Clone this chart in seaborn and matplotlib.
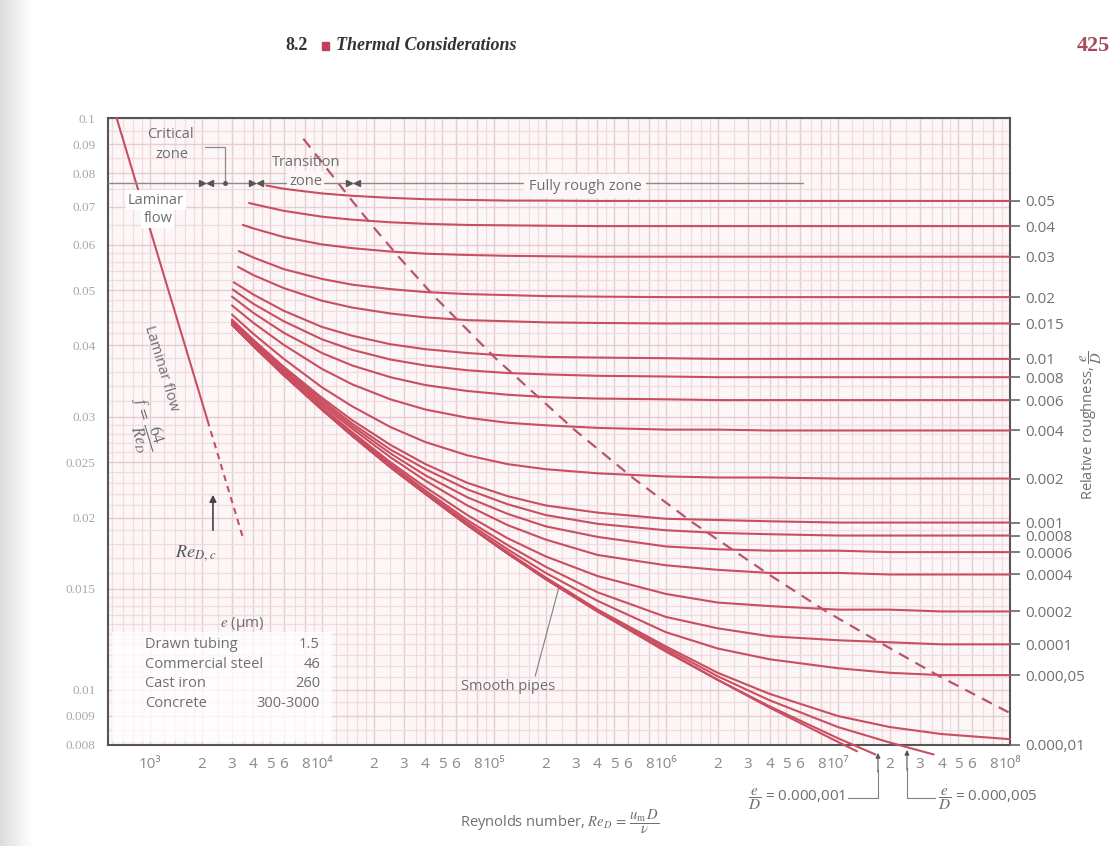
import numpy as np
import pandas as pd
import matplotlib
matplotlib.use("Agg")
import matplotlib.pyplot as plt
import matplotlib.patches as patches
from matplotlib.ticker import NullFormatter, NullLocator
import seaborn as sns

re_grid = [4e3, 6e3, 1e4, 1.5e4, 2.5e4, 4e4, 7e4, 1.2e5, 2e5, 4e5,
           1e6, 2e6, 4e6, 1e7, 2e7, 4e7, 1e8]

rel_rough = ["0.05", "0.04", "0.03", "0.02", "0.015", "0.01", "0.008", "0.006",
             "0.004", "0.002", "0.001", "0.0008", "0.0006", "0.0004", "0.0002",
             "0.0001", "0.00005", "0.00001", "0.000005", "0.000001", "smooth"]

# first point of each curve (left end, near Re = 3000-4700)
start_re = [4750, 3770, 3470, 3290, 3250, 3070, 3030, 3000, 3000, 3000, 3000,
            3000, 3000, 3000, 3000, 3000, 3000, 3000, 3000, 3000, 3000]
start_f = [0.0762, 0.0710, 0.0650, 0.0585, 0.0549, 0.0516, 0.0501, 0.0487,
           0.0470, 0.0453, 0.0444, 0.0442, 0.0441, 0.0439, 0.0437, 0.0436,
           0.0436, 0.0435, 0.0435, 0.0435, 0.0435]

# friction factor of each curve on re_grid (None = curve not drawn there)
friction = [
    [None, .0752, .0738, .0731, .0725, .0721, .0719, .0717, .0717, .0716, .0716, .0716, .0716, .0716, .0716, .0716, .0716],
    [.0707, .0688, .0672, .0664, .0657, .0653, .0650, .0649, .0648, .0647, .0647, .0647, .0647, .0647, .0647, .0647, .0647],
    [.0641, .0619, .0601, .0592, .0584, .0579, .0576, .0574, .0573, .0572, .0572, .0572, .0572, .0572, .0572, .0572, .0572],
    [.0570, .0544, .0523, .0511, .0502, .0496, .0492, .0490, .0488, .0487, .0486, .0486, .0486, .0486, .0486, .0486, .0486],
    [.0531, .0504, .0479, .0466, .0455, .0448, .0443, .0441, .0439, .0438, .0437, .0437, .0437, .0437, .0437, .0437, .0437],
    [.0491, .0460, .0431, .0416, .0402, .0394, .0388, .0384, .0382, .0381, .0380, .0379, .0379, .0379, .0379, .0379, .0379],
    [.0473, .0441, .0410, .0393, .0378, .0369, .0362, .0358, .0356, .0354, .0353, .0352, .0352, .0352, .0352, .0352, .0352],
    [.0456, .0421, .0388, .0369, .0352, .0341, .0333, .0328, .0325, .0323, .0322, .0321, .0321, .0321, .0321, .0321, .0321],
    [.0438, .0401, .0364, .0342, .0322, .0309, .0299, .0293, .0290, .0287, .0285, .0285, .0284, .0284, .0284, .0284, .0284],
    [.0419, .0379, .0338, .0313, .0288, .0271, .0257, .0248, .0243, .0239, .0236, .0235, .0235, .0234, .0234, .0234, .0234],
    [.0409, .0367, .0324, .0296, .0268, .0248, .0230, .0218, .0210, .0204, .0199, .0198, .0197, .0196, .0196, .0196, .0196],
    [.0407, .0365, .0321, .0292, .0263, .0243, .0224, .0211, .0202, .0195, .0190, .0188, .0187, .0186, .0186, .0186, .0186],
    [.0405, .0362, .0318, .0289, .0259, .0237, .0217, .0203, .0193, .0185, .0178, .0176, .0175, .0175, .0174, .0174, .0174],
    [.0403, .0360, .0315, .0286, .0255, .0232, .0210, .0194, .0183, .0172, .0165, .0162, .0160, .0160, .0159, .0159, .0159],
    [.0401, .0357, .0312, .0282, .0250, .0226, .0202, .0184, .0171, .0158, .0147, .0142, .0140, .0138, .0138, .0137, .0137],
    [.0400, .0356, .0310, .0280, .0248, .0223, .0198, .0179, .0164, .0148, .0134, .0128, .0124, .0122, .0121, .0120, .0120],
    [.0400, .0356, .0310, .0279, .0246, .0221, .0196, .0176, .0160, .0143, .0126, .0118, .0113, .0109, .0107, .0106, .0106],
    [.0399, .0355, .0309, .0278, .0245, .0220, .0194, .0174, .0157, .0138, .0119, .0107, .00983, .00899, .0086, .00836, .00819],
    [.0399, .0355, .0309, .0278, .0245, .0220, .0194, .0173, .0157, .0138, .0118, .01055, .00958, .0086, .00808, None, None],
    [.0399, .0355, .0309, .0278, .0245, .0220, .0194, .0173, .0156, .0137, .0117, .0104, .00935, .00822, None, None, None],
    [.0399, .0355, .0309, .0278, .0245, .0220, .0194, .0173, .0156, .0137, .01165, .0104, .0093, .0081, None, None, None],
]

# the lowest curves run a little past the bottom frame
tail_re = [None] * 18 + [3.6e7, 1.65e7, 1.29e7]
tail_f = [None] * 18 + [0.0077, 0.0077, 0.0078]

# laminar line f = 64/Re (solid, then dashed into the critical zone)
lam_re = [640, 2160]
lam_f = [0.100, 0.0296]
lam_dash_re = [2160, 3500]
lam_dash_f = [0.0296, 0.0183]

# dashed boundary between transition and fully rough zones
bound_re = [7.8e3, 1.5e4, 1.97e4, 2.79e4, 4.54e4, 1.03e5, 2.97e5, 6.5e5,
            1.43e6, 3.97e6, 8.55e6, 1.83e7, 3.89e7, 1e8]
bound_f = [0.092, 0.0716, 0.0647, 0.0572, 0.0486, 0.0379, 0.0284, 0.0234,
           0.0196, 0.0159, 0.0137, 0.0120, 0.01055, 0.0091]

# axis ticks
f_ticks = [0.008, 0.009, 0.01, 0.015, 0.02, 0.025, 0.03, 0.04, 0.05, 0.06,
           0.07, 0.08, 0.09, 0.1]
f_tick_labels = ["0.008", "0.009", "0.01", "0.015", "0.02", "0.025", "0.03",
                 "0.04", "0.05", "0.06", "0.07", "0.08", "0.09", "0.1"]
decades = [3, 4, 5, 6, 7]
decade_labels = ["10³", "10⁴", "10⁵", "10⁶", "10⁷", "10⁸"]
sub_mult = [2, 3, 4, 5, 6, 8]

rough_labels = ["0.05", "0.04", "0.03", "0.02", "0.015", "0.01", "0.008",
                "0.006", "0.004", "0.002", "0.001", "0.0008", "0.0006",
                "0.0004", "0.0002", "0.0001", "0.000,05", "0.000,01"]
rough_label_f = [0.0716, 0.0647, 0.0572, 0.0486, 0.0437, 0.0379, 0.0352,
                 0.0321, 0.0284, 0.0234, 0.0196, 0.0186, 0.0174, 0.0159,
                 0.0137, 0.0120, 0.0106, 0.0080]

materials = ["Drawn tubing", "Commercial steel", "Cast iron", "Concrete"]
roughness_um = ["1.5", "46", "260", "300-3000"]

RED = "#c94e60"
DASH_RED = "#b5566c"
GRID = "#efdbe0"
BG = "#fdf6f7"
TEXT = "#6f6f6f"

sns.set_theme(style="white")
plt.rcParams["font.family"] = ["Open Sans", "DejaVu Sans"]
plt.rcParams["mathtext.fontset"] = "stix"

rows = []
for i, name in enumerate(rel_rough):
    rows.append((name, start_re[i], start_f[i]))
    for r, f in zip(re_grid, friction[i]):
        if f is not None and r > start_re[i]:
            rows.append((name, r, f))
    if tail_re[i] is not None:
        rows.append((name, tail_re[i], tail_f[i]))
df = pd.DataFrame(rows, columns=["curve", "Re", "f"])

fig = plt.figure(figsize=(11.14, 8.46), dpi=100)
fig.patch.set_facecolor("white")

# scanner shadow along the binding
strip = fig.add_axes([0, 0, 0.03, 1])
strip.imshow(np.linspace(0.78, 1.0, 50)[None, :] ** 0.6, cmap="gray",
             vmin=0, vmax=1, aspect="auto")
strip.axis("off")

ax = fig.add_axes([0.0969, 0.1194, 0.8097, 0.7411])
ax.set_facecolor(BG)

sns.lineplot(data=df, x="Re", y="f", units="curve", estimator=None, sort=False,
             color=RED, linewidth=1.5, legend=False, ax=ax)
n_curves = len(ax.lines)
sns.lineplot(x=lam_re, y=lam_f, color=RED, linewidth=1.5, ax=ax)
sns.lineplot(x=lam_dash_re, y=lam_dash_f, color=RED, linewidth=1.5,
             linestyle=(0, (3, 2.5)), ax=ax)
sns.lineplot(x=bound_re, y=bound_f, color=DASH_RED, linewidth=1.6,
             linestyle=(0, (5, 3.5)), sort=False, ax=ax)
for i, ln in enumerate(ax.lines):
    ln.set_clip_on(False)
    ln.set_zorder(7 if i < n_curves else 3)

ax.set_xscale("log")
ax.set_yscale("log")
ax.set_xlim(570, 1e8)
ax.set_ylim(0.008, 0.1)

# ticks and paper grid
major_x, major_lab = [], []
for k, d in enumerate(decades):
    major_x.append(10.0 ** d)
    major_lab.append(decade_labels[k])
    for m in sub_mult:
        major_x.append(m * 10.0 ** d)
        major_lab.append(str(m))
major_x.append(1e8)
major_lab.append(decade_labels[-1])
ax.set_xticks(major_x, major_lab)
fine_x = [m * 10.0 ** d for d in [2] + decades
          for m in [1.2, 1.4, 1.6, 1.8, 2.5, 3.5, 4.5, 6, 7, 8, 9]]
fine_x = [v for v in fine_x if 570 < v < 1e8 and v not in major_x]
ax.set_xticks(fine_x, minor=True)
ax.xaxis.set_minor_formatter(NullFormatter())

ax.set_yticks(f_ticks, f_tick_labels)
fine_y = ([0.008 + 0.0005 * i for i in range(15)] +
          [0.015 + 0.001 * i for i in range(15)] +
          [0.03 + 0.002 * i for i in range(15)] +
          [0.06 + 0.005 * i for i in range(9)])
ax.set_yticks(fine_y, minor=True)
ax.yaxis.set_minor_formatter(NullFormatter())

ax.grid(True, which="major", color="#e6cdd3", linewidth=1.0)
ax.grid(True, which="minor", color=GRID, linewidth=0.9)
ax.set_axisbelow(True)
ax.tick_params(which="both", length=0)
ax.tick_params(axis="x", pad=9, labelsize=11, labelcolor="#8a8a8a")
ax.tick_params(axis="y", pad=9, labelsize=9.5, labelcolor="#a8a8a8")
for lab in ax.get_yticklabels():
    lab.set_family("Liberation Serif")
ax.set_xlabel("")
ax.set_ylabel("")
for sp in ax.spines.values():
    sp.set_color("#555555")
    sp.set_linewidth(1.5)

ax2 = ax.twinx()
ax2.set_yscale("log")
ax2.set_ylim(ax.get_ylim())
ax2.set_yticks(rough_label_f, rough_labels)
ax2.yaxis.set_minor_locator(NullLocator())
ax2.tick_params(axis="y", length=7, width=1.2, color="#666666", pad=4,
                labelsize=11, labelcolor="#707070")
for sp in ax2.spines.values():
    sp.set_visible(False)
ax2.grid(False)
fig.text(0.980, 0.497, r"Relative roughness, $\dfrac{e}{D}$", rotation=90,
         ha="center", va="center", fontsize=10.5, color=TEXT)


def px(x, y):
    # picture pixel -> axes fraction
    return ((x - 108) / 902, (745 - y) / 627)


T = ax.transAxes
tx = dict(color=TEXT, fontsize=10.5, transform=T, zorder=6)
white = dict(facecolor="white", edgecolor="none", pad=1.5)

# zone labels along the top
ax.plot(*zip(px(108, 183), px(803, 183)), color="#8a8a8a", lw=1.0,
        transform=T, zorder=4)
ax.text(*px(585, 186), "Fully rough zone", ha="center", va="center",
        bbox=dict(facecolor=BG, edgecolor="none", pad=3), **tx)
ax.text(*px(306, 162), "Transition", ha="center", va="center", **tx)
ax.text(*px(306, 181), "zone", ha="center", va="center",
        bbox=dict(facecolor=BG, edgecolor="none", pad=1.5), **tx)
ax.text(*px(170, 134), "Critical", ha="center", va="center", **tx)
ax.text(*px(172, 154), "zone", ha="center", va="center", **tx)
ax.plot(*zip(px(205, 147), px(225, 147), px(225, 183)), color="#8a8a8a",
        lw=0.9, transform=T, zorder=4)
ax.plot(*px(225, 183), marker="o", ms=2.5, color="#555555", transform=T, zorder=5)
for cx in [206, 256, 353]:
    ax.plot(*px(cx - 4, 183), marker=">", ms=5, color="#555555", transform=T, zorder=8)
    ax.plot(*px(cx + 4, 183), marker="<", ms=5, color="#555555", transform=T, zorder=8)
ax.text(*px(156, 200), "Laminar", ha="center", va="center", bbox=white, **tx)
ax.text(*px(158, 218), "flow", ha="center", va="center", bbox=white, **tx)

# laminar flow label along the line
ax.text(*px(161, 368), "Laminar flow", rotation=-73, rotation_mode="anchor",
        ha="center", va="center", **tx)
ax.text(*px(144, 424), r"$f\,=\,\dfrac{64}{Re_D}$", rotation=-73,
        rotation_mode="anchor", ha="center", va="center", color=TEXT,
        fontsize=12, transform=T, zorder=6)
ax.annotate("", xy=px(213, 492), xytext=px(213, 533), xycoords=T,
            textcoords=T, arrowprops=dict(arrowstyle="-|>", color="#444444",
                                          lw=1.2, mutation_scale=10))
ax.text(*px(196, 553), r"$Re_{D,\,c}$", ha="center", va="center",
        color="#555555", fontsize=13, transform=T, zorder=6)

# material roughness table
ax.add_patch(patches.Rectangle(px(112, 742), 220 / 902, 110 / 627,
                               transform=T, facecolor="white", alpha=0.75,
                               edgecolor="none", zorder=2.5))
ax.text(*px(242, 624), r"$e$ (μm)", ha="center", va="center",
        color=TEXT, fontsize=11, transform=T, zorder=6)
for i, (name, val) in enumerate(zip(materials, roughness_um)):
    yy = 645 + 19.5 * i
    ax.text(*px(145, yy), name, ha="left", va="center", **tx)
    ax.text(*px(320, yy), val, ha="right", va="center", **tx)

ax.annotate("Smooth pipes", xy=(2.4e5, 0.0152), xycoords="data",
            xytext=px(508, 687), textcoords=T, ha="center", va="center",
            color=TEXT, fontsize=10.5, zorder=6,
            arrowprops=dict(arrowstyle="-", color="#808080", lw=0.8,
                            relpos=(0.78, 1.0), shrinkA=0, shrinkB=0))

# e/D call-outs under the frame
ax.plot(*zip(px(848, 798), px(878, 798), px(878, 770)), color="#808080",
        lw=0.8, transform=T, clip_on=False)
ax.annotate("", xy=px(878, 753), xytext=px(878, 772), xycoords=T,
            textcoords=T, annotation_clip=False,
            arrowprops=dict(arrowstyle="-|>", color="#555555", lw=0.8,
                            mutation_scale=7, shrinkA=0, shrinkB=0))
ax.plot(*zip(px(935, 798), px(907, 798), px(907, 768)), color="#808080",
        lw=0.8, transform=T, clip_on=False)
ax.annotate("", xy=px(907, 750), xytext=px(907, 770), xycoords=T,
            textcoords=T, annotation_clip=False,
            arrowprops=dict(arrowstyle="-|>", color="#555555", lw=0.8,
                            mutation_scale=7, shrinkA=0, shrinkB=0))
ax.text(*px(845, 799), r"$\dfrac{e}{D}$ = 0.000,001", ha="right", va="center",
        color=TEXT, fontsize=11, transform=T, clip_on=False)
ax.text(*px(938, 799), r"$\dfrac{e}{D}$ = 0.000,005", ha="left", va="center",
        color=TEXT, fontsize=11, transform=T, clip_on=False)

fig.text(560 / 1114, 1 - 822 / 846,
         r"Reynolds number, $Re_D\,=\,\dfrac{u_{\rm m}\,D}{\nu}$",
         ha="center", va="center", fontsize=10.5, color=TEXT)

# running head of the book page
fig.text(285 / 1114, 1 - 46 / 846, "8.2", ha="left", va="center",
         fontsize=13, fontweight="bold", family="Liberation Serif", color="#333333")
fig.add_artist(patches.Rectangle((322 / 1114, 1 - 50 / 846), 7 / 1114, 8 / 846,
                                 transform=fig.transFigure, color="#c0405a"))
fig.text(336 / 1114, 1 - 46 / 846, "Thermal Considerations", ha="left",
         va="center", fontsize=13, fontweight="bold", fontstyle="italic",
         family="Liberation Serif", color="#333333")
fig.text(1110 / 1114, 1 - 46 / 846, "425", ha="right", va="center",
         fontsize=16, fontweight="bold", family="Liberation Serif",
         color="#a64a5c")

fig.savefig("out.png", dpi=100)
